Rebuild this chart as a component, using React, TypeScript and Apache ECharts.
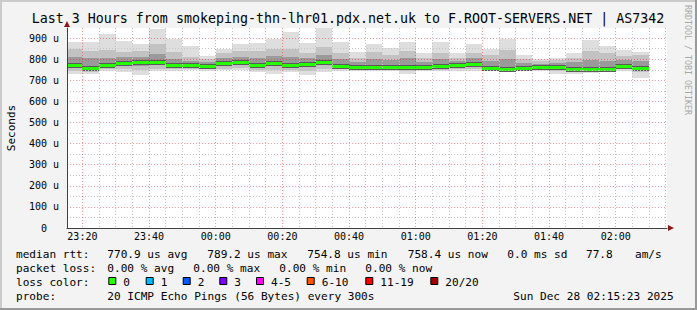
import React, { useEffect, useRef } from "react";
import * as echarts from "echarts";

// ---- data ----
const barStarts = [
  "23:15", "23:20", "23:25", "23:30", "23:35", "23:40", "23:45", "23:50", "23:55",
  "00:00", "00:05", "00:10", "00:15", "00:20", "00:25", "00:30", "00:35", "00:40", "00:45", "00:50", "00:55",
  "01:00", "01:05", "01:10", "01:15", "01:20", "01:25", "01:30", "01:35", "01:40", "01:45", "01:50", "01:55",
  "02:00", "02:05",
];
const medianUs = [773, 757, 773, 781, 786, 786, 773, 773, 767, 781, 786, 773, 781, 773, 776, 789, 770, 765, 763, 765, 763, 763, 767, 773, 778, 757, 755, 760, 765, 764, 756, 755, 755, 770, 759];
const minUs = [728, 731, 744, 740, 726, 744, 744, 749, 744, 749, 749, 739, 731, 739, 726, 739, 744, 746, 744, 746, 731, 744, 742, 744, 744, 746, 740, 744, 744, 731, 731, 737, 742, 746, 711];
const maxUs = [884, 881, 919, 887, 870, 944, 897, 864, 816, 849, 870, 875, 897, 931, 878, 948, 881, 833, 872, 853, 881, 831, 881, 831, 872, 849, 897, 821, 799, 805, 831, 891, 865, 845, 833];
const lowMidUs = [742, 740, 752, 752, 748, 756, 752, 756, 752, 756, 758, 750, 748, 750, 745, 754, 752, 752, 750, 752, 746, 750, 750, 752, 754, 750, 745, 750, 752, 745, 742, 744, 747, 752, 738];
const highMidUs = [850, 840, 845, 835, 838, 870, 832, 812, 800, 830, 840, 838, 850, 848, 830, 860, 830, 808, 835, 820, 838, 805, 830, 808, 830, 818, 845, 800, 790, 795, 805, 840, 828, 815, 818];
const lowInUs = [758, 748, 762, 768, 770, 772, 764, 765, 760, 770, 774, 762, 770, 762, 765, 774, 762, 760, 756, 758, 755, 756, 760, 765, 770, 752, 750, 755, 760, 756, 749, 749, 750, 762, 752];
const highInUs = [812, 805, 808, 810, 812, 825, 800, 792, 785, 808, 812, 805, 815, 810, 805, 820, 800, 788, 800, 795, 805, 785, 800, 792, 805, 790, 800, 782, 778, 782, 785, 795, 790, 795, 792];

const stepMinutes = 5;
const xStart = 15 + 23 / 60; // 23:15:23 (minutes after 23:00)
const xEnd = 195 + 23 / 60; // 02:15:23
const yMax = 948;

const titleText = "Last 3 Hours from smokeping-thn-lhr01.pdx.net.uk to F.ROOT-SERVERS.NET | AS7342";
const rttLabel = "median rtt:";
const rttStats = ["770.9 us avg", "789.2 us max", "754.8 us min", "758.4 us now", "0.0 ms sd", "77.8", "am/s"];
const lossLabel = "packet loss:";
const lossStats = ["0.00 % avg", "0.00 % max", "0.00 % min", "0.00 % now"];
const lossColorLabel = "loss color:";
const lossNames = ["0", "1", "2", "3", "4-5", "6-10", "11-19", "20/20"];
const lossColors = ["#26ff00", "#00b8ff", "#0059ff", "#7e00ff", "#ff00ff", "#ff5500", "#ff0000", "#a00000"];
const probeLabel = "probe:";
const probeText = "20 ICMP Echo Pings (56 Bytes) every 300s";
const dateText = "Sun Dec 28 02:15:23 2025";
const watermark = "RRDTOOL / TOBI OETIKER";

// ---- layout (style) ----
const FONT = '"DejaVu Sans Mono", monospace';
const rttX = [107.3, 207.3, 307.3, 407.7, 507.3, 586, 635];
const lossX = [107.3, 193.3, 279.3, 365.3];
const swatchX = [108.3, 145.7, 182.7, 219.3, 256, 306.7, 365.3, 430.3];

function toMinutes(hhmm: string): number {
  const [h, m] = hhmm.split(":").map(Number);
  return h >= 12 ? (h - 23) * 60 + m : (h + 1) * 60 + m;
}
function fmtTime(v: number): string {
  const t = Math.round((23 * 60 + v) % 1440);
  const h = Math.floor(t / 60);
  const m = t % 60;
  return `${String(h).padStart(2, "0")}:${String(m).padStart(2, "0")}`;
}

const seriesData = barStarts.map((s, i) => [
  toMinutes(s), medianUs[i], minUs[i], maxUs[i], lowMidUs[i], highMidUs[i], lowInUs[i], highInUs[i],
]);

function txt(text: string, x: number, y: number, size: number, extra: any = {}) {
  return {
    type: "text",
    x,
    y,
    silent: true,
    rotation: extra.rotation || 0,
    style: {
      text,
      fill: extra.fill || "#000",
      fontSize: size,
      fontFamily: FONT,
      textAlign: extra.align || "left",
      textVerticalAlign: "middle",
    },
  };
}

export default function App() {
  const ref = useRef<HTMLDivElement>(null);
  useEffect(() => {
    const chart = echarts.init(ref.current!, null, { renderer: "svg" });

    const graphics: any[] = [
      { type: "rect", silent: true, shape: { x: 0, y: 0, width: 697, height: 2 }, style: { fill: "#cbcbcb" } },
      { type: "rect", silent: true, shape: { x: 0, y: 0, width: 2, height: 310 }, style: { fill: "#cbcbcb" } },
      { type: "rect", silent: true, shape: { x: 0, y: 308, width: 697, height: 2 }, style: { fill: "#999999" } },
      { type: "rect", silent: true, shape: { x: 695, y: 0, width: 2, height: 310 }, style: { fill: "#999999" } },
      txt(titleText, 348, 18, 13.3, { align: "center" }),
      txt(watermark, 688, 5, 8.3, { rotation: -Math.PI / 2, fill: "#a8a8a8" }),
      txt("Seconds", 11, 128, 11, { rotation: Math.PI / 2, align: "center" }),
      { type: "polygon", silent: true, z: 10, shape: { points: [[64, 27], [70, 27], [67, 21]] }, style: { fill: "#8b1a1a" } },
      { type: "polygon", silent: true, z: 10, shape: { points: [[668, 225], [668, 231], [674, 228]] }, style: { fill: "#8b1a1a" } },
      txt(rttLabel, 16, 254, 11.1),
      ...rttStats.map((s, i) => txt(s, rttX[i], 254, 11.1)),
      txt(lossLabel, 16, 268, 11.1),
      ...lossStats.map((s, i) => txt(s, lossX[i], 268, 11.1)),
      txt(lossColorLabel, 16, 282, 11.1),
      ...lossNames.map((s, i) => txt(s, swatchX[i] + 15, 282, 11.1)),
      ...lossColors.map((c, i) => ({
        type: "rect",
        silent: true,
        shape: { x: swatchX[i] + 0.5, y: 277.5, width: 7, height: 7 },
        style: { fill: c, stroke: "#000", lineWidth: 1 },
      })),
      txt(probeLabel, 16, 296, 11.1),
      txt(probeText, 107.3, 296, 11.1),
      txt(dateText, 513.3, 296, 11.1),
    ];

    const option: any = {
      animation: false,
      backgroundColor: "#f3f3f3",
      grid: { left: 67, top: 28, width: 600, height: 200, show: true, backgroundColor: "#ffffff", borderWidth: 0 },
      xAxis: {
        type: "value",
        min: xStart,
        max: xEnd,
        splitNumber: 9,
        minInterval: 20,
        maxInterval: 20,
        z: 3,
        axisLine: { show: true, lineStyle: { color: "#404040", width: 1 } },
        axisTick: { show: false },
        axisLabel: {
          formatter: (v: number) => fmtTime(v),
          fontSize: 10,
          fontFamily: FONT,
          color: "#000",
          margin: 3,
          showMinLabel: false,
          showMaxLabel: false,
        },
        splitLine: {
          show: true,
          showMinLine: false,
          showMaxLine: false,
          lineStyle: { color: "rgba(255,0,0,0.4)", type: [1, 2], width: 1 },
        },
        minorTick: { show: false, splitNumber: 4 },
        minorSplitLine: { show: true, lineStyle: { color: "#c4c4c4", type: [1, 2], width: 1 } },
      },
      yAxis: {
        type: "value",
        min: 0,
        max: yMax,
        interval: 100,
        z: 3,
        axisLine: { show: true, lineStyle: { color: "#404040", width: 1 } },
        axisTick: { show: false },
        axisLabel: {
          formatter: (v: number) => (v === 0 ? "{z|0}" : `${v} u`),
          fontSize: 10,
          fontFamily: FONT,
          color: "#000",
          margin: 8,
          showMaxLabel: false,
          rich: { z: { fontSize: 10, fontFamily: FONT, color: "#000", padding: [0, 12, 0, 0] } },
        },
        splitLine: {
          show: true,
          showMinLine: false,
          showMaxLine: false,
          lineStyle: { color: "rgba(255,0,0,0.4)", type: [1, 2], width: 1 },
        },
        minorTick: { show: false, splitNumber: 2 },
        minorSplitLine: { show: true, lineStyle: { color: "#c4c4c4", type: [1, 2], width: 1 } },
      },
      series: [
        {
          type: "custom",
          z: 2,
          data: seriesData,
          encode: { x: 0, y: 1 },
          renderItem: (params: any, api: any) => {
            const t = api.value(0);
            const cs = params.coordSys;
            const x0 = Math.round(api.coord([t, 0])[0]);
            const x1 = Math.round(api.coord([t + stepMinutes, 0])[0]);
            const yOf = (v: number) => Math.round(api.coord([t, v])[1]);
            const clip = (r: any) =>
              echarts.graphic.clipRectByRect(r, { x: cs.x, y: cs.y, width: cs.width, height: cs.height });
            const band = (lo: number, hi: number, fill: string) => {
              const yHi = yOf(hi);
              const yLo = yOf(lo);
              const r = clip({ x: x0, y: yHi, width: x1 - x0, height: yLo - yHi });
              return r ? { type: "rect", shape: r, style: { fill } } : null;
            };
            const rectPx = (yTop: number, h: number, fill: string) => {
              const r = clip({ x: x0, y: yTop, width: x1 - x0, height: h });
              return r ? { type: "rect", shape: r, style: { fill } } : null;
            };
            const medY = yOf(api.value(1));
            const children = [
              band(api.value(2), api.value(3), "#dedede"),
              band(api.value(4), api.value(5), "#c2c2c2"),
              band(api.value(6), api.value(7), "#9a9a9a"),
              rectPx(medY - 2, 5, "#5a5a5a"),
              rectPx(medY - 1, 3, "#26ff00"),
            ].filter(Boolean);
            return { type: "group", children };
          },
        },
      ],
      graphic: graphics,
    };

    chart.setOption(option);
    return () => chart.dispose();
  }, []);

  return (
    <div
      ref={ref}
      style={{ position: "absolute", left: 0, top: 0, width: 697, height: 310, background: "#f3f3f3" }}
    />
  );
}
